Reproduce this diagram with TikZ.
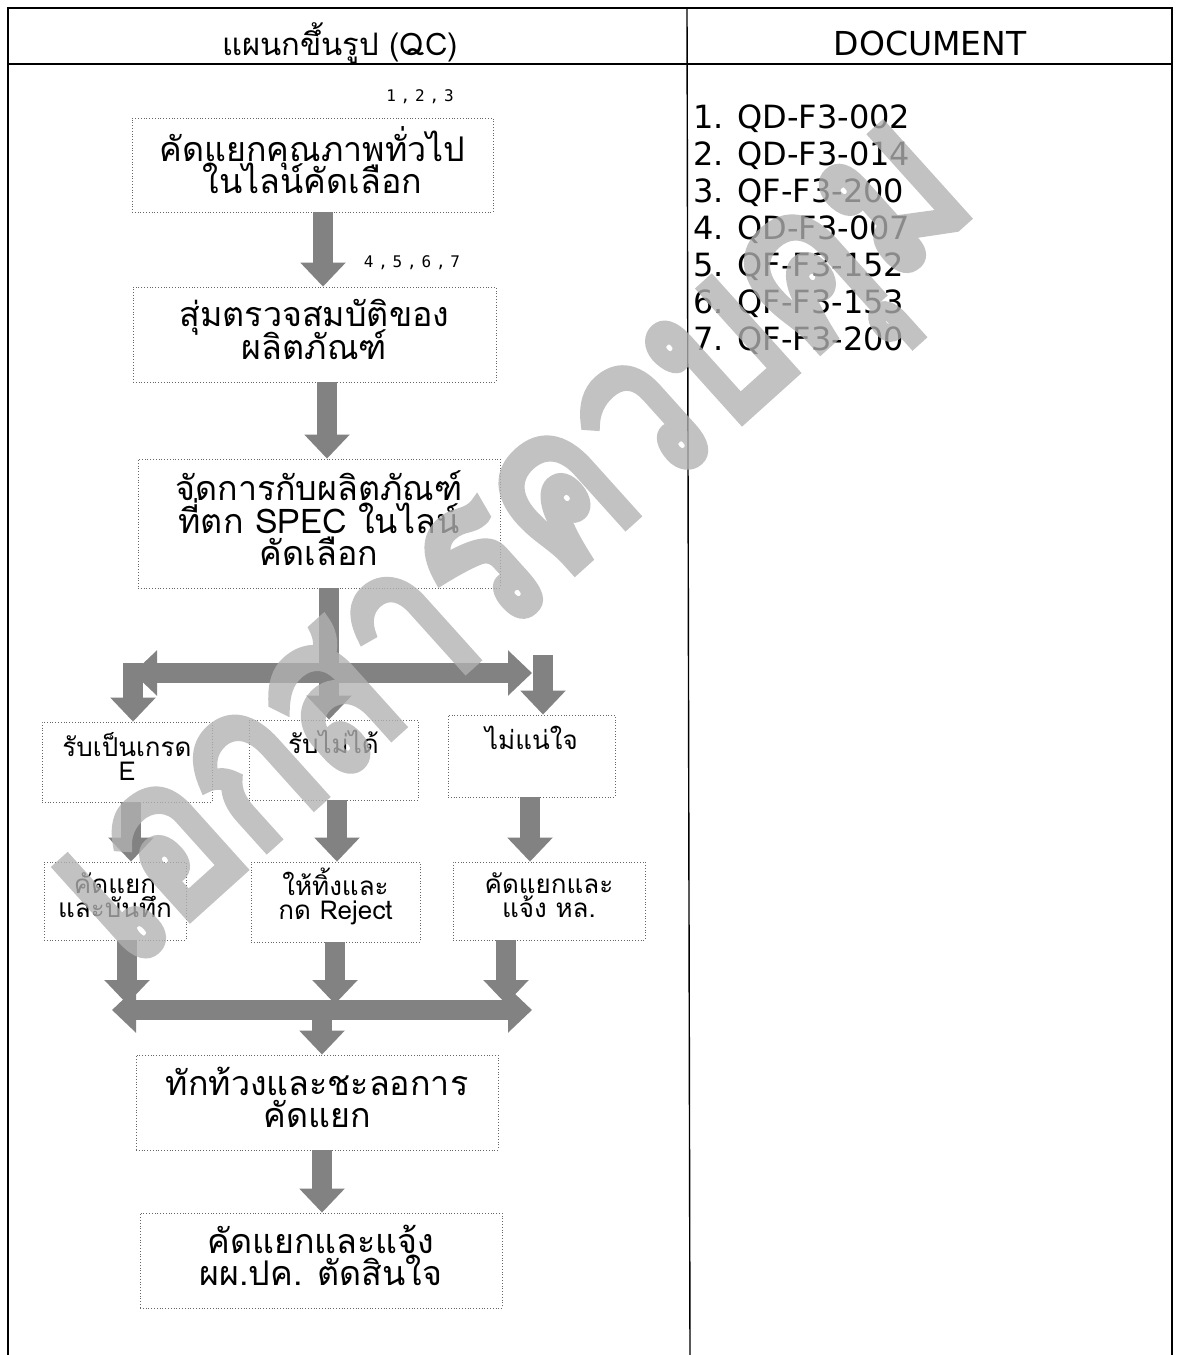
\documentclass[tikz,border=0pt]{standalone}
\usepackage{fontspec}
\setmainfont{DejaVu Sans}
\newfontfamily\thai[Script=Thai]{Loma}
\newfontfamily\thaiwm[Script=Thai,FakeBold=5]{Loma}
\newfontfamily\monof[LetterSpace=30]{DejaVu Sans Mono}
\usetikzlibrary{arrows.meta}
\definecolor{arrowgray}{RGB}{130,130,130}
\newcommand\bigthai{\thai\fontsize{34}{32.5}\selectfont\lineskiplimit=-100pt\relax}
\newcommand\smallthai{\thai\fontsize{26}{24}\selectfont\lineskiplimit=-100pt\relax}
\tikzset{
  box/.style={draw=black!60, dotted, line width=0.8pt, inner sep=0pt},
  bigtxt/.style={font=\bigthai, align=center, inner sep=0pt, yshift=5pt},
  smalltxt/.style={font=\smallthai, align=center, inner sep=0pt, yshift=6pt},
  blk/.style={draw=arrowgray, line width=20pt, -{Triangle[width=44pt,length=24pt]}},
  blkdbl/.style={draw=arrowgray, line width=20pt, {Triangle[width=44pt,length=24pt]}-{Triangle[width=44pt,length=24pt]}},
  frame/.style={draw=black, line width=1.4pt},
  doc/.style={font=\fontsize{32}{37}\selectfont, anchor=west, align=left},
  refs/.style={font=\monof\fontsize{16}{18}\selectfont}
}
\begin{document}
\begin{tikzpicture}[x=1pt,y=-1pt]
\useasboundingbox[fill=white] (0,0) rectangle (1176,1355);
% table frame
\draw[frame] (8,1355) -- (8,8) -- (1172,8) -- (1172,1355);
\draw[frame] (8,64) -- (1172,64);
\draw[frame] (687,8) -- (690,1355);
\node (h1) at (340,43) {\thai\fontsize{31}{32}\selectfont แผนกขึ้นรูป (QC)};
\node (h2) at (930,43) {\fontsize{33}{34}\selectfont DOCUMENT};
% document list
\node[doc] (docs) at (690,230) {1. QD-F3-002\\2. QD-F3-014\\3. QF-F3-200\\4. QD-F3-007\\5. QF-F3-152\\6. QF-F3-153\\7. QF-F3-200};
% boxes
\node[box,minimum width=361pt,minimum height=94pt] (b1) at (312.5,165) {};
\node[box,minimum width=363pt,minimum height=95pt] (b2) at (314.5,334.5) {};
\node[box,minimum width=362pt,minimum height=129pt] (b3) at (319,523.5) {};
\node[box,minimum width=170pt,minimum height=80pt] (b4) at (127,762) {};
\node[box,minimum width=169pt,minimum height=80pt] (b5) at (333.5,760) {};
\node[box,minimum width=167pt,minimum height=82pt] (b6) at (531.5,756) {};
\node[box,minimum width=142pt,minimum height=78pt] (b7) at (115,901) {};
\node[box,minimum width=169pt,minimum height=80pt] (b8) at (335.5,902) {};
\node[box,minimum width=192pt,minimum height=78pt] (b9) at (549,901) {};
\node[box,minimum width=362pt,minimum height=95pt] (b10) at (317,1102.5) {};
\node[box,minimum width=362pt,minimum height=95pt] (b11) at (321,1260.5) {};
% box texts
\node[bigtxt] (t1) at (b1.center) {คัดแยกคุณภาพทั่วไป\\ในไลน์คัดเลือก};
\node[bigtxt] (t2) at (b2.center) {สุ่มตรวจสมบัติของ\\ผลิตภัณฑ์};
\node[bigtxt] (t3) at (b3.center) {จัดการกับผลิตภัณฑ์\\ที่ตก SPEC ในไลน์\\คัดเลือก};
\node[smalltxt] (t4) at (b4.center) {รับเป็นเกรด\\E};
\node[smalltxt] (t5) at (b5.center) {รับไม่ได้\\\mbox{}};
\node[smalltxt] (t6) at (b6.center) {ไม่แน่ใจ\\\mbox{}};
\node[smalltxt] (t7) at (b7.center) {คัดแยก\\และบันทึก};
\node[smalltxt] (t8) at (b8.center) {ให้ทิ้งและ\\กด Reject};
\node[smalltxt] (t9) at (b9.center) {คัดแยกและ\\แจ้ง หล.};
\node[bigtxt] (t10) at (b10.center) {ทักท้วงและชะลอการ\\คัดแยก};
\node[bigtxt] (t11) at (b11.center) {คัดแยกและแจ้ง\\ผผ.ปค. ตัดสินใจ};
% reference labels
\node[refs] (r1) at (420,97) {1,2,3};
\node[refs] (r2) at (412,263) {4,5,6,7};
% junction coordinates
\coordinate (jl) at (133,673);
\coordinate (jr) at (532,673);
\coordinate (kl) at (112,1010);
\coordinate (kr) at (532,1010);
\coordinate (kc) at (322,1010);
\coordinate (kt) at (322,1004);
\coordinate (rtop) at (543,655);
% arrows, main column
\draw[blk] ([xshift=10.5pt]b1.south) -- ([xshift=10.5pt]b1.south |- b2.north);
\draw[blk] ([xshift=12.5pt]b2.south) -- ([xshift=12.5pt]b2.south |- b3.north);
% branch
\draw[blkdbl] (jl) -- (jr);
\draw[blk] ([xshift=10pt]b3.south) -- ([xshift=10pt]b3.south |- b5.north);
\draw[blk] ([yshift=10pt]jl) -- (jl |- b4.north);
\draw[blk] (rtop) -- (rtop |- b6.north);
% second level
\draw[blk] ([xshift=4pt]b4.south) -- ([xshift=4pt]b4.south |- b7.north);
\draw[blk] ([xshift=3.5pt]b5.south) -- ([xshift=3.5pt]b5.south |- b8.north);
\draw[blk] ([xshift=-1.5pt]b6.south) -- ([xshift=-1.5pt]b6.south |- b9.north);
% merge
\draw[blkdbl] (kl) -- (kr);
\draw[blk] ([xshift=12pt]b7.south) -- ([xshift=12pt]b7.south |- kt);
\draw[blk] ([xshift=-0.5pt]b8.south) -- ([xshift=-0.5pt]b8.south |- kt);
\draw[blk] ([xshift=-43pt]b9.south) -- ([xshift=-43pt]b9.south |- kt);
\draw[blk] (kc) -- (kc |- b10.north);
\draw[blk] ([xshift=5pt]b10.south) -- ([xshift=5pt]b10.south |- b11.north);
% watermark
\begin{scope}[transparency group, opacity=0.78]
\node[rotate=42, text=black!30, yscale=1.25, font=\thaiwm\fontsize{177}{177}\selectfont] (wm) at (530,561) {เอกสารควบคุม};
\end{scope}
\end{tikzpicture}
\end{document}
